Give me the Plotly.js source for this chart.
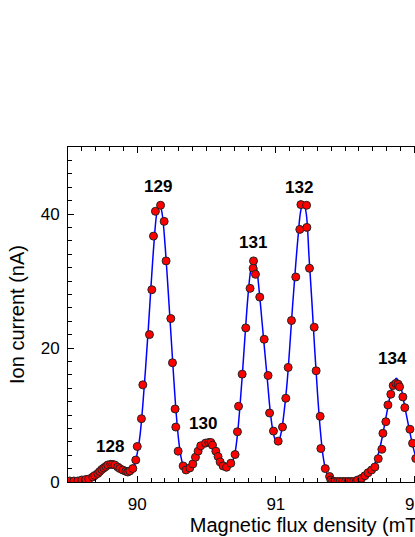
<!DOCTYPE html>
<html>
<head>
<meta charset="utf-8">
<script src="https://cdn.plot.ly/plotly-3.0.1.min.js"></script>
<style>
html,body{margin:0;padding:0;overflow:hidden;background:#fff;}
#chart{width:600px;height:537px;}
</style>
</head>
<body>
<div id="chart"></div>
<script>
// Measured ion current (dots)
var dotsX = [89.513,89.542,89.570,89.599,89.628,89.650,89.679,89.693,89.715,89.729,89.744,89.758,89.773,89.787,89.809,89.823,89.838,89.859,89.874,89.895,89.917,89.931,89.946,89.968,89.989,90.000,90.030,90.040,90.088,90.105,90.117,90.131,90.168,90.194,90.208,90.242,90.254,90.273,90.278,90.295,90.331,90.352,90.379,90.401,90.420,90.439,90.458,90.492,90.516,90.531,90.543,90.567,90.583,90.598,90.619,90.644,90.675,90.706,90.723,90.731,90.757,90.783,90.814,90.836,90.839,90.853,90.884,90.916,90.944,90.955,90.983,91.017,91.048,91.072,91.089,91.113,91.144,91.173,91.181,91.222,91.224,91.243,91.277,91.291,91.320,91.325,91.357,91.388,91.397,91.409,91.426,91.446,91.464,91.484,91.503,91.522,91.542,91.561,91.580,91.590,91.619,91.643,91.666,91.691,91.715,91.739,91.765,91.773,91.794,91.809,91.830,91.847,91.866,91.883,91.893,91.917,91.931,91.968,91.987,92.010,92.040];
var dotsY = [0.15,0.15,0.15,0.3,0.37,0.45,0.75,0.97,1.27,1.57,1.87,2.09,2.31,2.54,2.64,2.61,2.54,2.24,2.01,1.79,1.60,1.49,1.64,2.01,3.28,5.30,9.45,14.5,22.0,28.7,36.7,40.4,41.3,38.9,33.0,24.4,17.8,10.9,8.2,4.6,2.4,1.8,2.1,2.7,3.7,4.6,5.4,5.8,5.9,5.9,5.5,4.6,3.8,3.0,2.4,2.2,2.8,4.1,7.5,11.3,16.1,23.0,28.9,31.9,33.0,31.0,27.6,21.3,15.9,10.3,7.6,6.1,8.2,12.5,17.1,24.1,30.6,37.7,41.4,41.3,38.0,31.9,23.1,16.6,9.8,5.0,2.0,0.82,0.3,0.07,0.07,0.07,0.07,0.07,0.07,0.07,0.07,0.07,0.07,0.3,0.55,0.94,1.39,1.79,2.24,3.48,4.88,7.27,9.0,11.5,13.1,14.4,14.7,14.6,14.2,12.7,11.1,7.87,5.78,3.5,1.8];

// Fitted curve (blue line)
var fitX = [89.50,89.55,89.60,89.65,89.70,89.73,89.76,89.79,89.82,89.85,89.88,89.91,89.94,89.97,90.00,90.02,90.04,90.06,90.08,90.10,90.12,90.14,90.16,90.18,90.20,90.22,90.24,90.26,90.28,90.30,90.32,90.34,90.36,90.38,90.40,90.42,90.44,90.46,90.48,90.50,90.52,90.54,90.56,90.58,90.60,90.62,90.64,90.66,90.68,90.70,90.72,90.74,90.76,90.78,90.80,90.82,90.84,90.86,90.88,90.90,90.92,90.94,90.96,90.98,91.00,91.02,91.04,91.06,91.08,91.10,91.12,91.14,91.16,91.18,91.20,91.22,91.24,91.26,91.28,91.30,91.32,91.34,91.36,91.38,91.40,91.43,91.50,91.56,91.60,91.64,91.68,91.72,91.75,91.78,91.81,91.84,91.87,91.90,91.93,91.96,91.99,92.02,92.05,92.10,92.20];
var fitY = [0.0,0.1,0.25,0.55,1.1,1.6,2.15,2.6,2.8,2.6,2.1,1.75,1.6,2.0,4.3,7.0,11.5,17.0,23.0,29.5,35.5,40.0,41.7,40.0,35.5,29.5,23.0,16.5,10.5,6.0,3.3,2.1,1.9,2.2,2.8,3.6,4.5,5.3,5.8,6.0,5.9,5.4,4.7,3.8,3.0,2.4,2.2,2.3,2.8,3.8,6.5,11.0,16.5,22.5,28.0,31.8,33.3,32.0,28.5,24.0,19.5,15.0,10.5,7.5,6.2,6.2,7.5,10.5,14.5,20.0,26.0,31.5,36.5,40.5,41.8,40.0,33.5,27.0,20.0,13.5,8.0,4.0,1.8,0.8,0.3,0.1,0.05,0.1,0.35,0.9,1.7,3.0,5.0,8.0,11.3,14.2,15.5,14.3,11.3,8.2,5.3,3.0,1.5,0.4,0.05];

// Peak labels (mass numbers)
var peakLabels = ["128","129","130","131","132","134"];
var peakX = [89.801,90.152,90.477,90.832,91.165,91.845];
var peakY = [5.3,44.1,8.66,35.7,44.0,18.4];

var xTitle = "Magnetic flux density (mT)";
var yTitle = "Ion current (nA)";

var FONT = "Liberation Sans, Arial, sans-serif";

var traces = [
  {x: fitX, y: fitY, type: "scatter", mode: "lines",
   line: {color: "#0000ff", width: 1.5, shape: "spline", smoothing: 1},
   hoverinfo: "skip", showlegend: false},
  {x: dotsX, y: dotsY, type: "scatter", mode: "markers",
   marker: {color: "#ff0000", size: 8, line: {color: "#222222", width: 1}},
   showlegend: false}
];

var annotations = peakLabels.map(function(t, i){
  return {x: peakX[i], y: peakY[i], xref: "x", yref: "y", text: "<b>" + t + "</b>",
          showarrow: false, font: {family: FONT, size: 17, color: "#000"},
          xanchor: "center", yanchor: "middle"};
});

var layout = {
  width: 600, height: 537,
  margin: {l: 68, r: 54, t: 147, b: 55},
  paper_bgcolor: "#fff", plot_bgcolor: "#fff",
  font: {family: FONT, size: 17, color: "#000"},
  showlegend: false,
  xaxis: {
    range: [89.5, 92.95], dtick: 1, tick0: 90,
    ticks: "inside", ticklen: 6, tickwidth: 1, tickcolor: "#000",
    minor: {ticks: "inside", dtick: 0.1, ticklen: 4, tickwidth: 1, tickcolor: "#000"},
    showline: true, linecolor: "#000", linewidth: 1, mirror: "ticks",
    showgrid: false, zeroline: false,
    tickfont: {family: FONT, size: 17, color: "#000"},
    ticklabelstandoff: 7,
    title: {text: xTitle, font: {family: FONT, size: 20, color: "#000"}, standoff: 3}
  },
  yaxis: {
    range: [0, 50], dtick: 20, tick0: 0,
    ticks: "inside", ticklen: 6, tickwidth: 1, tickcolor: "#000",
    minor: {ticks: "inside", dtick: 2, ticklen: 4, tickwidth: 1, tickcolor: "#000"},
    showline: true, linecolor: "#000", linewidth: 1, mirror: "ticks",
    showgrid: false, zeroline: false,
    tickfont: {family: FONT, size: 17, color: "#000"},
    ticklabelstandoff: 4,
    title: {text: yTitle, font: {family: FONT, size: 20, color: "#000"}, standoff: 10}
  },
  annotations: annotations
};

Plotly.newPlot("chart", traces, layout, {displayModeBar: false, staticPlot: true});
</script>
</body>
</html>
